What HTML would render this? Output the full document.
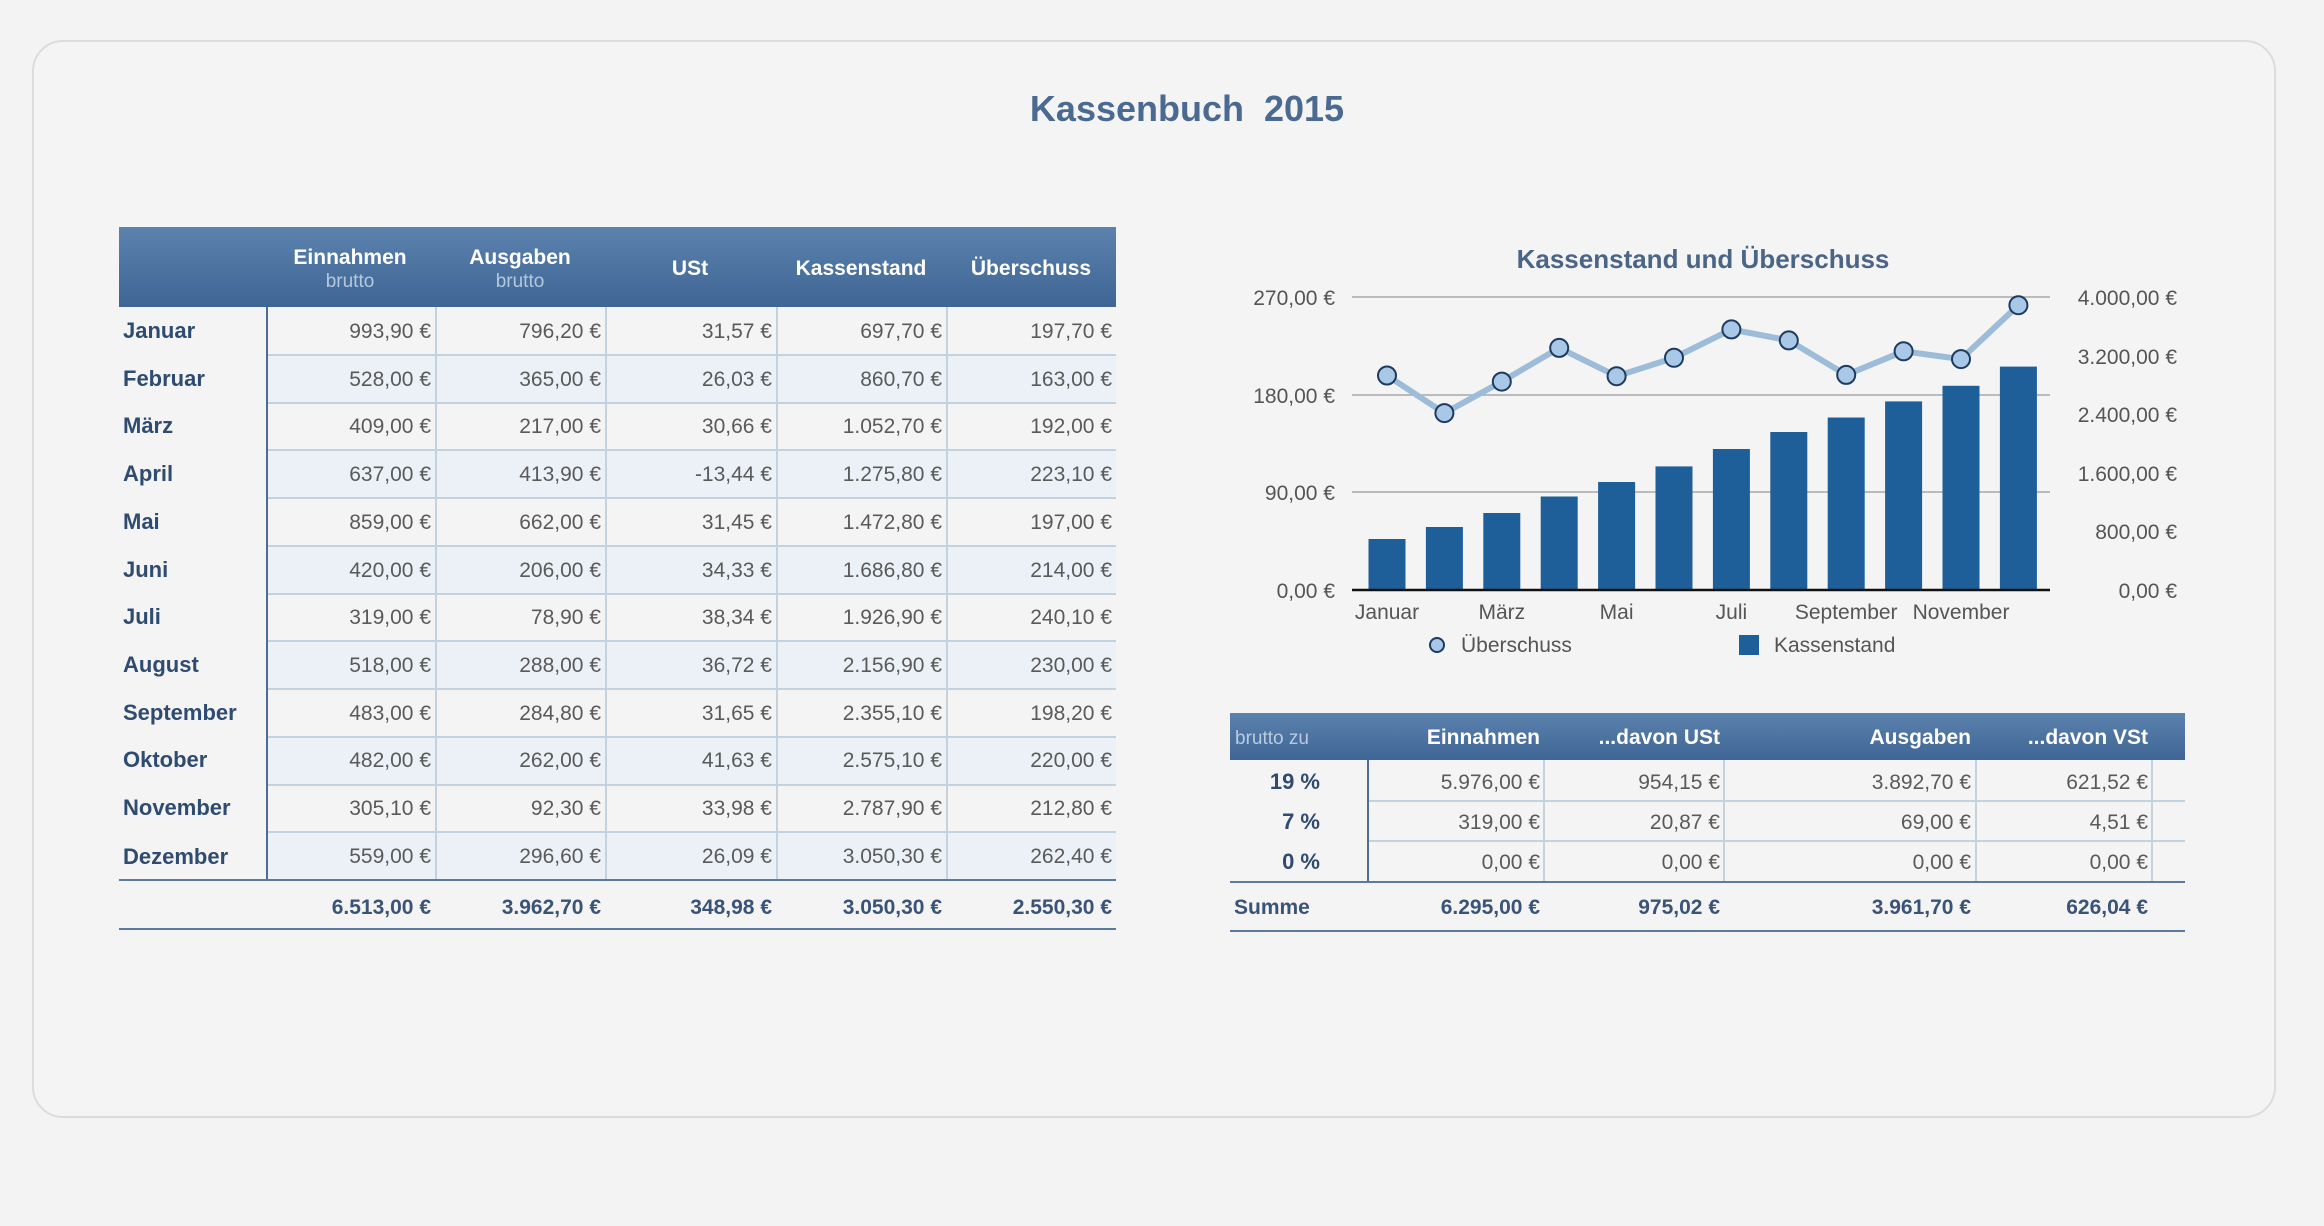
<!DOCTYPE html>
<html><head><meta charset="utf-8"><style>
html,body{margin:0;padding:0;background:#f3f3f3;}
svg{display:block;font-family:"Liberation Sans",sans-serif;}
.m{font-size:22px;font-weight:bold;fill:#2f4b70;}
.v{font-size:21px;fill:#5a5a5a;text-anchor:end;}
.s{font-size:21px;font-weight:bold;fill:#3a5478;text-anchor:end;}
.h{font-size:21px;font-weight:bold;fill:#fff;text-anchor:middle;}
.hb{font-size:19px;fill:#b4c8de;text-anchor:middle;}
.t{font-size:21px;fill:#555;}
</style></head><body>
<svg width="2324" height="1226" viewBox="0 0 2324 1226" xmlns="http://www.w3.org/2000/svg">
<defs>
<linearGradient id="hg" x1="0" y1="0" x2="0" y2="1"><stop offset="0" stop-color="#5c82ae"/><stop offset="1" stop-color="#3e6594"/></linearGradient>
</defs>
<rect x="33" y="41" width="2242" height="1076" rx="30" fill="#f4f4f4" stroke="#dcdcdc" stroke-width="2"/>
<text x="1187" y="121" text-anchor="middle" font-size="36" font-weight="bold" fill="#4a6a92">Kassenbuch&#160;&#160;2015</text>

<!-- left table -->
<rect x="119" y="227" width="997" height="80" fill="url(#hg)"/>
<text class="h" x="350" y="264">Einnahmen</text><text class="hb" x="350" y="287">brutto</text>
<text class="h" x="520" y="264">Ausgaben</text><text class="hb" x="520" y="287">brutto</text>
<text class="h" x="690" y="275">USt</text>
<text class="h" x="861" y="275">Kassenstand</text>
<text class="h" x="1031" y="275">Überschuss</text>
<g fill="#ebf1f6">
<rect x="267" y="355" width="849" height="48"/><rect x="267" y="450" width="849" height="48"/>
<rect x="267" y="546" width="849" height="48"/><rect x="267" y="641" width="849" height="48"/>
<rect x="267" y="737" width="849" height="48"/><rect x="267" y="832" width="849" height="48"/>
</g>
<g stroke="#c3d2df" stroke-width="2">
<line x1="267" x2="1116" y1="355" y2="355"/><line x1="267" x2="1116" y1="403" y2="403"/>
<line x1="267" x2="1116" y1="450" y2="450"/><line x1="267" x2="1116" y1="498" y2="498"/>
<line x1="267" x2="1116" y1="546" y2="546"/><line x1="267" x2="1116" y1="594" y2="594"/>
<line x1="267" x2="1116" y1="641" y2="641"/><line x1="267" x2="1116" y1="689" y2="689"/>
<line x1="267" x2="1116" y1="737" y2="737"/><line x1="267" x2="1116" y1="785" y2="785"/>
<line x1="267" x2="1116" y1="832" y2="832"/>
<line x1="436" x2="436" y1="307" y2="880"/><line x1="606" x2="606" y1="307" y2="880"/>
<line x1="777" x2="777" y1="307" y2="880"/><line x1="947" x2="947" y1="307" y2="880"/>
</g>
<line x1="267" x2="267" y1="307" y2="880" stroke="#4d6d94" stroke-width="2"/>
<line x1="119" x2="1116" y1="880" y2="880" stroke="#5a7aa0" stroke-width="2"/>
<line x1="119" x2="1116" y1="929" y2="929" stroke="#5a7aa0" stroke-width="2"/>
<g class="m">
<text class="m" x="123" y="338">Januar</text><text class="m" x="123" y="386">Februar</text>
<text class="m" x="123" y="433">März</text><text class="m" x="123" y="481">April</text>
<text class="m" x="123" y="529">Mai</text><text class="m" x="123" y="577">Juni</text>
<text class="m" x="123" y="624">Juli</text><text class="m" x="123" y="672">August</text>
<text class="m" x="123" y="720">September</text><text class="m" x="123" y="767">Oktober</text>
<text class="m" x="123" y="815">November</text><text class="m" x="123" y="864">Dezember</text>
</g>
<text class="v" x="431" y="338">993,90 €</text><text class="v" x="601" y="338">796,20 €</text><text class="v" x="772" y="338">31,57 €</text><text class="v" x="942" y="338">697,70 €</text><text class="v" x="1112" y="338">197,70 €</text>
<text class="v" x="431" y="386">528,00 €</text><text class="v" x="601" y="386">365,00 €</text><text class="v" x="772" y="386">26,03 €</text><text class="v" x="942" y="386">860,70 €</text><text class="v" x="1112" y="386">163,00 €</text>
<text class="v" x="431" y="433">409,00 €</text><text class="v" x="601" y="433">217,00 €</text><text class="v" x="772" y="433">30,66 €</text><text class="v" x="942" y="433">1.052,70 €</text><text class="v" x="1112" y="433">192,00 €</text>
<text class="v" x="431" y="481">637,00 €</text><text class="v" x="601" y="481">413,90 €</text><text class="v" x="772" y="481">-13,44 €</text><text class="v" x="942" y="481">1.275,80 €</text><text class="v" x="1112" y="481">223,10 €</text>
<text class="v" x="431" y="529">859,00 €</text><text class="v" x="601" y="529">662,00 €</text><text class="v" x="772" y="529">31,45 €</text><text class="v" x="942" y="529">1.472,80 €</text><text class="v" x="1112" y="529">197,00 €</text>
<text class="v" x="431" y="577">420,00 €</text><text class="v" x="601" y="577">206,00 €</text><text class="v" x="772" y="577">34,33 €</text><text class="v" x="942" y="577">1.686,80 €</text><text class="v" x="1112" y="577">214,00 €</text>
<text class="v" x="431" y="624">319,00 €</text><text class="v" x="601" y="624">78,90 €</text><text class="v" x="772" y="624">38,34 €</text><text class="v" x="942" y="624">1.926,90 €</text><text class="v" x="1112" y="624">240,10 €</text>
<text class="v" x="431" y="672">518,00 €</text><text class="v" x="601" y="672">288,00 €</text><text class="v" x="772" y="672">36,72 €</text><text class="v" x="942" y="672">2.156,90 €</text><text class="v" x="1112" y="672">230,00 €</text>
<text class="v" x="431" y="720">483,00 €</text><text class="v" x="601" y="720">284,80 €</text><text class="v" x="772" y="720">31,65 €</text><text class="v" x="942" y="720">2.355,10 €</text><text class="v" x="1112" y="720">198,20 €</text>
<text class="v" x="431" y="767">482,00 €</text><text class="v" x="601" y="767">262,00 €</text><text class="v" x="772" y="767">41,63 €</text><text class="v" x="942" y="767">2.575,10 €</text><text class="v" x="1112" y="767">220,00 €</text>
<text class="v" x="431" y="815">305,10 €</text><text class="v" x="601" y="815">92,30 €</text><text class="v" x="772" y="815">33,98 €</text><text class="v" x="942" y="815">2.787,90 €</text><text class="v" x="1112" y="815">212,80 €</text>
<text class="v" x="431" y="863">559,00 €</text><text class="v" x="601" y="863">296,60 €</text><text class="v" x="772" y="863">26,09 €</text><text class="v" x="942" y="863">3.050,30 €</text><text class="v" x="1112" y="863">262,40 €</text>
<text class="s" x="431" y="914">6.513,00 €</text><text class="s" x="601" y="914">3.962,70 €</text><text class="s" x="772" y="914">348,98 €</text><text class="s" x="942" y="914">3.050,30 €</text><text class="s" x="1112" y="914">2.550,30 €</text>

<!-- chart -->
<text x="1703" y="268" text-anchor="middle" font-size="26" font-weight="bold" fill="#4a6585">Kassenstand und Überschuss</text>
<g stroke="#a8a8a8" stroke-width="1.5">
<line x1="1352" x2="2050" y1="297" y2="297"/><line x1="1352" x2="2050" y1="395" y2="395"/><line x1="1352" x2="2050" y1="492" y2="492"/>
</g>
<g fill="#1f5f99">
<rect x="1368.5" y="539" width="37" height="51"/><rect x="1425.9" y="527" width="37" height="63"/>
<rect x="1483.3" y="513" width="37" height="77"/><rect x="1540.7" y="496.5" width="37" height="93.5"/>
<rect x="1598.1" y="482" width="37" height="108"/><rect x="1655.5" y="466.4" width="37" height="123.6"/>
<rect x="1712.9" y="449" width="37" height="141"/><rect x="1770.3" y="432" width="37" height="158"/>
<rect x="1827.7" y="417.5" width="37" height="172.5"/><rect x="1885.1" y="401.4" width="37" height="188.6"/>
<rect x="1942.5" y="385.8" width="37" height="204.2"/><rect x="1999.9" y="366.6" width="37" height="223.4"/>
</g>
<line x1="1352" x2="2050" y1="590" y2="590" stroke="#111" stroke-width="2.5"/>
<polyline fill="none" stroke="#9dbcd9" stroke-width="6" stroke-linejoin="round" points="1387,375.5 1444.4,413.1 1501.8,381.6 1559.2,347.9 1616.6,376.2 1674,357.8 1731.4,329.4 1788.8,340.4 1846.2,374.9 1903.6,351.3 1961,359.1 2018.4,305.2"/>
<g fill="#a9c7e6" stroke="#1d3b5f" stroke-width="2">
<circle cx="1387" cy="375.5" r="9"/><circle cx="1444.4" cy="413.1" r="9"/><circle cx="1501.8" cy="381.6" r="9"/>
<circle cx="1559.2" cy="347.9" r="9"/><circle cx="1616.6" cy="376.2" r="9"/><circle cx="1674" cy="357.8" r="9"/>
<circle cx="1731.4" cy="329.4" r="9"/><circle cx="1788.8" cy="340.4" r="9"/><circle cx="1846.2" cy="374.9" r="9"/>
<circle cx="1903.6" cy="351.3" r="9"/><circle cx="1961" cy="359.1" r="9"/><circle cx="2018.4" cy="305.2" r="9"/>
</g>
<g class="t" text-anchor="end">
<text x="1335" y="305">270,00 €</text><text x="1335" y="403">180,00 €</text><text x="1335" y="500">90,00 €</text><text x="1335" y="598">0,00 €</text>
<text x="2177" y="305">4.000,00 €</text><text x="2177" y="364">3.200,00 €</text><text x="2177" y="422">2.400,00 €</text>
<text x="2177" y="481">1.600,00 €</text><text x="2177" y="539">800,00 €</text><text x="2177" y="598">0,00 €</text>
</g>
<g class="t" text-anchor="middle">
<text x="1387" y="619">Januar</text><text x="1501.8" y="619">März</text><text x="1616.6" y="619">Mai</text>
<text x="1731.4" y="619">Juli</text><text x="1846.2" y="619">September</text><text x="1961" y="619">November</text>
</g>
<circle cx="1437" cy="645" r="7" fill="#a9c7e6" stroke="#1d3b5f" stroke-width="2"/>
<text class="t" x="1461" y="652">Überschuss</text>
<rect x="1739" y="635" width="20" height="20" fill="#1f5f99"/>
<text class="t" x="1774" y="652">Kassenstand</text>

<!-- bottom table -->
<rect x="1230" y="713" width="955" height="47" fill="url(#hg)"/>
<text x="1235" y="744" font-size="19" fill="#b9cbe0">brutto zu</text>
<g font-size="21" font-weight="bold" fill="#fff" text-anchor="end">
<text x="1540" y="744">Einnahmen</text><text x="1720" y="744">...davon USt</text><text x="1971" y="744">Ausgaben</text><text x="2148" y="744">...davon VSt</text>
</g>
<g stroke="#c3d2df" stroke-width="2">
<line x1="1368" x2="2185" y1="801" y2="801"/><line x1="1368" x2="2185" y1="841" y2="841"/>
<line x1="1544" x2="1544" y1="760" y2="882"/><line x1="1724" x2="1724" y1="760" y2="882"/>
<line x1="1976" x2="1976" y1="760" y2="882"/><line x1="2152" x2="2152" y1="760" y2="882"/>
</g>
<line x1="1368" x2="1368" y1="760" y2="882" stroke="#4d6d94" stroke-width="2"/>
<line x1="1230" x2="2185" y1="882" y2="882" stroke="#5a7aa0" stroke-width="2"/>
<line x1="1230" x2="2185" y1="931" y2="931" stroke="#5a7aa0" stroke-width="2"/>
<g class="m" text-anchor="end">
<text x="1320" y="789">19 %</text><text x="1320" y="829">7 %</text><text x="1320" y="869">0 %</text>
</g>
<text class="v" x="1540" y="789">5.976,00 €</text><text class="v" x="1720" y="789">954,15 €</text><text class="v" x="1971" y="789">3.892,70 €</text><text class="v" x="2148" y="789">621,52 €</text>
<text class="v" x="1540" y="829">319,00 €</text><text class="v" x="1720" y="829">20,87 €</text><text class="v" x="1971" y="829">69,00 €</text><text class="v" x="2148" y="829">4,51 €</text>
<text class="v" x="1540" y="869">0,00 €</text><text class="v" x="1720" y="869">0,00 €</text><text class="v" x="1971" y="869">0,00 €</text><text class="v" x="2148" y="869">0,00 €</text>
<text x="1234" y="914" font-size="21" font-weight="bold" fill="#3a5478">Summe</text>
<text class="s" x="1540" y="914">6.295,00 €</text><text class="s" x="1720" y="914">975,02 €</text><text class="s" x="1971" y="914">3.961,70 €</text><text class="s" x="2148" y="914">626,04 €</text>
</svg>
</body></html>
